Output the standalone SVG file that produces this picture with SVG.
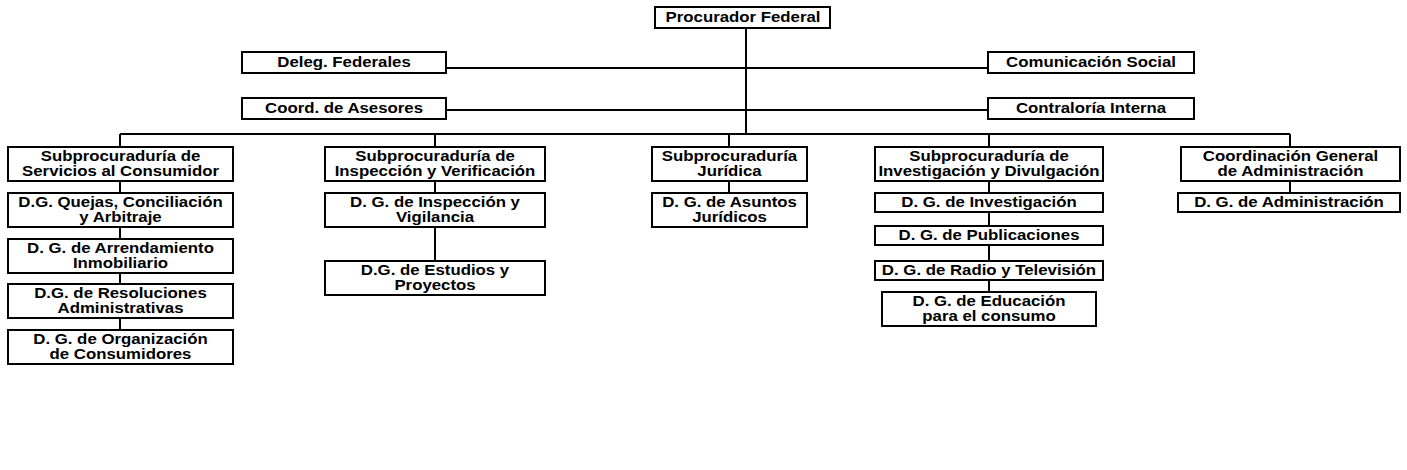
<svg xmlns="http://www.w3.org/2000/svg" width="1407" height="470" viewBox="0 0 1407 470">
  <style>
    .box { fill: #ffffff; stroke: #000000; stroke-width: 2; }
    .ln { fill: none; stroke: #000000; stroke-width: 2; }
    text { font-family: "Liberation Sans", Arial, Helvetica, sans-serif; font-weight: bold; font-size: 14px; text-anchor: middle; fill: #000000; }
  </style>
  <rect width="1407" height="470" fill="#ffffff"/>

  <!-- connectors -->
  <g id="connectors" class="ln">
    <line x1="746" y1="28" x2="746" y2="134"/>
    <line x1="446" y1="68" x2="988" y2="68"/>
    <line x1="446" y1="110" x2="988" y2="110"/>
    <line x1="120" y1="134" x2="1290" y2="134"/>
    <!-- drops to the sub-offices -->
    <line x1="120" y1="134" x2="120" y2="147"/>
    <line x1="435" y1="134" x2="435" y2="147"/>
    <line x1="729" y1="134" x2="729" y2="147"/>
    <line x1="989" y1="134" x2="989" y2="147"/>
    <line x1="1290" y1="134" x2="1290" y2="147"/>
    <!-- column 1 chain -->
    <line x1="120" y1="181" x2="120" y2="193"/>
    <line x1="120" y1="227" x2="120" y2="239"/>
    <line x1="120" y1="273" x2="120" y2="284"/>
    <line x1="120" y1="318" x2="120" y2="330"/>
    <!-- column 2 chain -->
    <line x1="435" y1="181" x2="435" y2="193"/>
    <line x1="435" y1="227" x2="435" y2="261"/>
    <!-- column 3 chain -->
    <line x1="729" y1="181" x2="729" y2="193"/>
    <!-- column 4 chain -->
    <line x1="989" y1="181" x2="989" y2="193"/>
    <line x1="989" y1="212" x2="989" y2="226"/>
    <line x1="989" y1="245" x2="989" y2="261"/>
    <line x1="989" y1="280" x2="989" y2="292"/>
    <!-- column 5 chain -->
    <line x1="1290" y1="181" x2="1290" y2="193"/>
  </g>

  <!-- top level -->
  <g id="procurador">
    <rect class="box" x="655" y="7" width="175" height="21"/>
    <text transform="translate(743 22) scale(1.2 1)">Procurador Federal</text>
  </g>
  <g id="deleg-federales">
    <rect class="box" x="242" y="52" width="204" height="21"/>
    <text transform="translate(344 67) scale(1.2 1)">Deleg. Federales</text>
  </g>
  <g id="comunicacion-social">
    <rect class="box" x="988" y="52" width="206" height="21"/>
    <text transform="translate(1091 67) scale(1.2 1)">Comunicación Social</text>
  </g>
  <g id="coord-asesores">
    <rect class="box" x="242" y="98" width="204" height="21"/>
    <text transform="translate(344 113) scale(1.2 1)">Coord. de Asesores</text>
  </g>
  <g id="contraloria-interna">
    <rect class="box" x="988" y="98" width="206" height="21"/>
    <text transform="translate(1091 113) scale(1.2 1)">Contraloría Interna</text>
  </g>

  <!-- column 1 -->
  <g id="sub-servicios">
    <rect class="box" x="8" y="147" width="225" height="34"/>
    <text transform="translate(120.5 161) scale(1.2 1)">Subprocuraduría de<tspan x="0" dy="15">Servicios al Consumidor</tspan></text>
  </g>
  <g id="dg-quejas">
    <rect class="box" x="8" y="193" width="225" height="34"/>
    <text transform="translate(120.5 207) scale(1.2 1)">D.G. Quejas, Conciliación<tspan x="0" dy="15">y Arbitraje</tspan></text>
  </g>
  <g id="dg-arrendamiento">
    <rect class="box" x="8" y="239" width="225" height="34"/>
    <text transform="translate(120.5 253) scale(1.2 1)">D. G. de Arrendamiento<tspan x="0" dy="15">Inmobiliario</tspan></text>
  </g>
  <g id="dg-resoluciones">
    <rect class="box" x="8" y="284" width="225" height="34"/>
    <text transform="translate(120.5 298) scale(1.2 1)">D.G. de Resoluciones<tspan x="0" dy="15">Administrativas</tspan></text>
  </g>
  <g id="dg-organizacion">
    <rect class="box" x="8" y="330" width="225" height="34"/>
    <text transform="translate(120.5 344) scale(1.2 1)">D. G. de Organización<tspan x="0" dy="15">de Consumidores</tspan></text>
  </g>

  <!-- column 2 -->
  <g id="sub-inspeccion">
    <rect class="box" x="325" y="147" width="220" height="34"/>
    <text transform="translate(435 161) scale(1.2 1)">Subprocuraduría de<tspan x="0" dy="15">Inspección y Verificación</tspan></text>
  </g>
  <g id="dg-inspeccion">
    <rect class="box" x="325" y="193" width="220" height="34"/>
    <text transform="translate(435 207) scale(1.2 1)">D. G. de Inspección y<tspan x="0" dy="15">Vigilancia</tspan></text>
  </g>
  <g id="dg-estudios">
    <rect class="box" x="325" y="261" width="220" height="34"/>
    <text transform="translate(435 275) scale(1.2 1)">D.G. de Estudios y<tspan x="0" dy="15">Proyectos</tspan></text>
  </g>

  <!-- column 3 -->
  <g id="sub-juridica">
    <rect class="box" x="652" y="147" width="155" height="34"/>
    <text transform="translate(729.5 161) scale(1.2 1)">Subprocuraduría<tspan x="0" dy="15">Jurídica</tspan></text>
  </g>
  <g id="dg-asuntos">
    <rect class="box" x="652" y="193" width="155" height="34"/>
    <text transform="translate(729.5 207) scale(1.2 1)">D. G. de Asuntos<tspan x="0" dy="15">Jurídicos</tspan></text>
  </g>

  <!-- column 4 -->
  <g id="sub-investigacion">
    <rect class="box" x="875" y="147" width="228" height="34"/>
    <text transform="translate(989 161) scale(1.2 1)">Subprocuraduría de<tspan x="0" dy="15">Investigación y Divulgación</tspan></text>
  </g>
  <g id="dg-investigacion">
    <rect class="box" x="875" y="193" width="228" height="19"/>
    <text transform="translate(989 207) scale(1.2 1)">D. G. de Investigación</text>
  </g>
  <g id="dg-publicaciones">
    <rect class="box" x="875" y="226" width="228" height="19"/>
    <text transform="translate(989 240) scale(1.2 1)">D. G. de Publicaciones</text>
  </g>
  <g id="dg-radio">
    <rect class="box" x="875" y="261" width="228" height="19"/>
    <text transform="translate(989 275) scale(1.2 1)">D. G. de Radio y Televisión</text>
  </g>
  <g id="dg-educacion">
    <rect class="box" x="882" y="292" width="214" height="34"/>
    <text transform="translate(989 306) scale(1.2 1)">D. G. de Educación<tspan x="0" dy="15">para el consumo</tspan></text>
  </g>

  <!-- column 5 -->
  <g id="coord-administracion">
    <rect class="box" x="1181" y="147" width="219" height="34"/>
    <text transform="translate(1290.5 161) scale(1.2 1)">Coordinación General<tspan x="0" dy="15">de Administración</tspan></text>
  </g>
  <g id="dg-administracion">
    <rect class="box" x="1178" y="193" width="222" height="19"/>
    <text transform="translate(1289 207) scale(1.2 1)">D. G. de Administración</text>
  </g>
</svg>
